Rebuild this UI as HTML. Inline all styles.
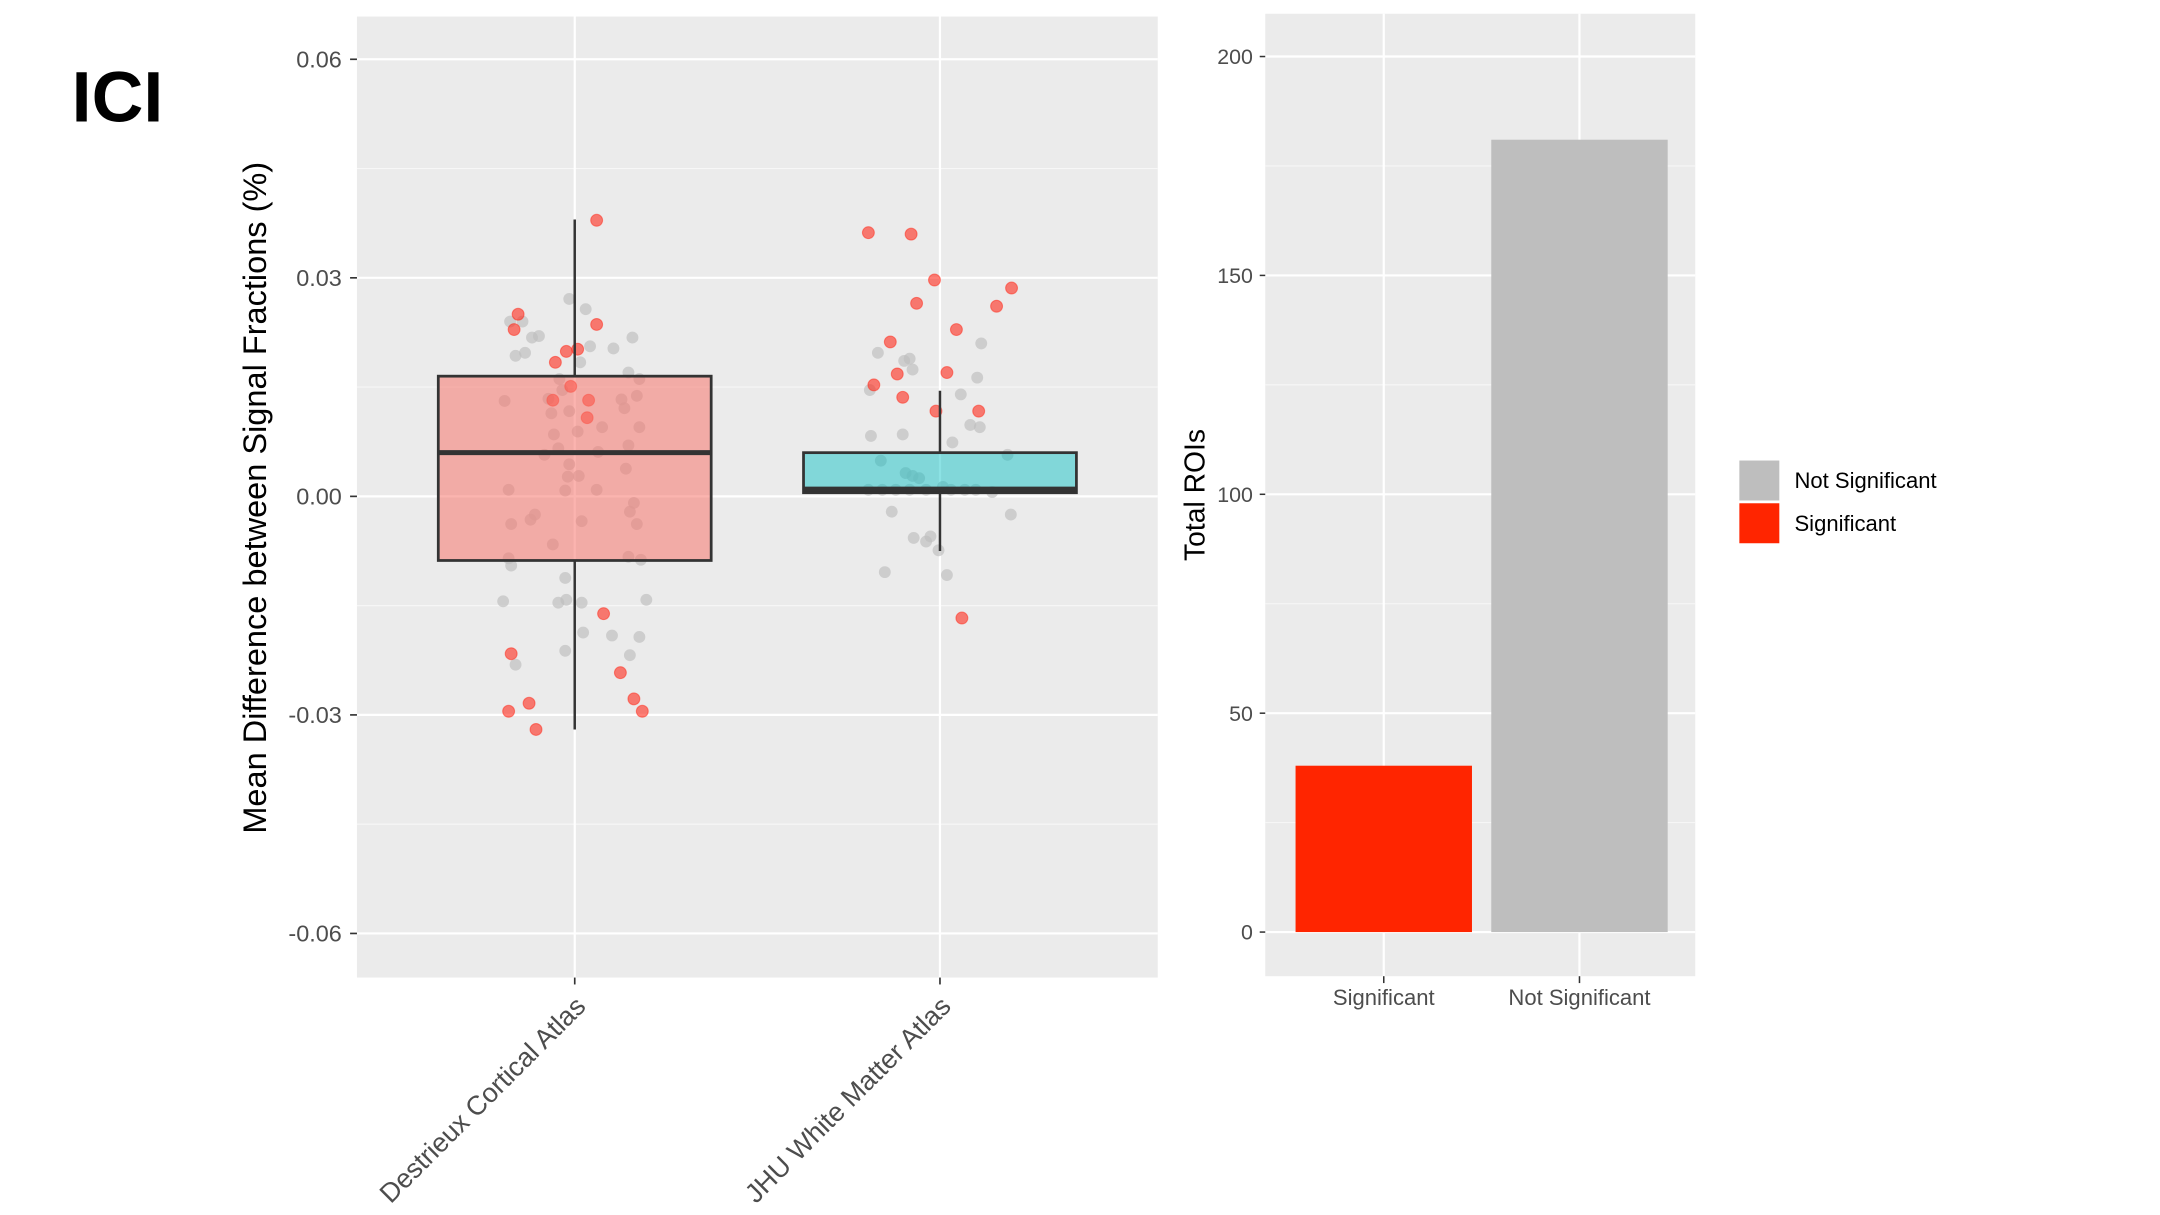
<!DOCTYPE html>
<html><head><meta charset="utf-8"><style>
html,body{margin:0;padding:0;background:#fff;}
svg{display:block;font-family:"Liberation Sans",Arial,sans-serif;}
</style></head><body>
<svg id="chart" width="2160" height="1215" viewBox="0 0 1567.2 881.2" preserveAspectRatio="none" xmlns="http://www.w3.org/2000/svg">
<text x="52" y="88" font-size="52" font-weight="bold" font-family="Liberation Sans Narrow, Liberation Sans, sans-serif">ICI</text>
<g id="left"></g>
<g id="right"></g>
</svg>
<script>
const NS="http://www.w3.org/2000/svg";
// ---- Box plot data ----
const boxCategories=["Destrieux Cortical Atlas","JHU White Matter Atlas"];
const boxQ1=[-0.0088,0.0005];
const boxMedian=[0.006,0.001];
const boxQ3=[0.0165,0.006];
const whiskLow=[-0.032,-0.0075];
const whiskHigh=[0.038,0.0145];
const yTicks=[0.06,0.03,0,-0.03,-0.06];
const yTickLabels=["0.06","0.03","0.00","-0.03","-0.06"];
// jittered points: category index, jitter (category units), value
const sigCat=[0,0,0,0,0,0,0,0,0,0,0,0,0,0,0,0,0,0,0,1,1,1,1,1,1,1,1,1,1,1,1,1,1,1];
const sigJit=[0.06,-0.155,-0.166,0.06,-0.053,-0.023,0.008,-0.011,-0.06,0.038,0.034,-0.174,-0.125,-0.181,-0.106,0.079,0.125,0.162,0.185,-0.196,-0.079,-0.015,0.196,-0.064,0.155,0.045,-0.136,-0.181,-0.117,0.019,-0.102,-0.011,0.106,0.06];
const sigVal=[0.0379,0.025,0.0229,0.0236,0.0184,0.0199,0.0202,0.0151,0.0132,0.0132,0.0108,-0.0216,-0.0284,-0.0295,-0.032,-0.0161,-0.0242,-0.0278,-0.0295,0.0362,0.036,0.0297,0.0286,0.0265,0.0261,0.0229,0.0212,0.0153,0.0168,0.017,0.0136,0.0117,0.0117,-0.0167];
const nsCat=[0,0,0,0,0,0,0,0,0,0,0,0,0,0,0,0,0,0,0,0,0,0,0,0,0,0,0,0,0,0,0,0,0,0,0,0,0,0,0,0,0,0,0,0,0,0,0,0,0,0,0,0,0,0,0,0,0,0,0,0,0,0,
1,1,1,1,1,1,1,1,1,1,1,1,1,1,1,1,1,1,1,1,1,1,1,1,1,1,1,1,1,1,1,1,1,1,1,1];
const nsJit=[-0.117,-0.143,-0.177,-0.098,-0.015,0.03,0.158,0.042,0.106,-0.162,-0.136,-0.042,0.015,0.147,0.177,-0.072,-0.034,0.128,0.17,-0.192,-0.064,-0.015,0.136,0.075,0.177,-0.057,-0.045,0.008,-0.015,0.064,0.147,-0.019,0.011,-0.083,0.140,-0.181,0.06,-0.026,-0.109,-0.121,-0.174,0.019,0.162,0.151,0.17,-0.06,-0.181,-0.174,0.147,0.181,-0.026,-0.045,-0.023,0.019,-0.196,0.196,-0.026,0.023,0.102,0.177,0.151,-0.162,
-0.098,-0.17,-0.083,-0.075,-0.192,0.113,0.102,0.057,-0.189,-0.102,0.034,0.083,0.109,-0.162,-0.094,-0.075,-0.057,-0.196,-0.158,-0.121,-0.083,-0.038,0.030,0.068,0.098,0.143,0.194,-0.132,-0.072,-0.038,-0.004,0.019,-0.151,-0.026,0.185,0.008,0.098];
const nsVal=[0.0218,0.024,0.024,0.022,0.0271,0.0257,0.0218,0.0206,0.0203,0.0193,0.0197,0.0161,0.0184,0.017,0.0161,0.0134,0.0146,0.0133,0.0138,0.0131,0.0114,0.0117,0.0121,0.0095,0.0095,0.0085,0.0066,0.0089,0.0044,0.0061,0.007,0.0027,0.0028,0.0057,0.0038,0.0009,0.0009,0.0008,-0.0025,-0.0032,-0.0038,-0.0034,-0.0009,-0.0021,-0.0038,-0.0066,-0.0085,-0.0095,-0.0083,-0.0087,-0.0112,-0.0146,-0.0142,-0.0146,-0.0144,-0.0142,-0.0212,-0.0187,-0.0191,-0.0193,-0.0218,-0.0231,
0.0186,0.0197,0.0189,0.0174,0.0146,0.021,0.0163,0.014,0.0083,0.0085,0.0074,0.0098,0.0095,0.0049,0.0032,0.0028,0.0025,0.0009,0.0009,0.0009,0.0009,0.0009,0.0009,0.0009,0.0009,0.0006,-0.0025,-0.0021,-0.0057,-0.0062,-0.0074,-0.0108,-0.0104,-0.0055,0.0057,0.0013];
// ---- Bar data ----
const barCategories=["Significant","Not Significant"];
const barValues=[38,181];
const barTicks=[0,50,100,150,200];
const barColors=["#ff2500","#bebebe"];

function el(tag,attrs,parent){const e=document.createElementNS(NS,tag);for(const k in attrs)e.setAttribute(k,attrs[k]);parent.appendChild(e);return e;}

// Left panel
const L=document.getElementById('left');
const P={x0:259,x1:840,y0:12,y1:709};
const yS=v=>360-v*(158.5/0.03);
const xS=i=>417+i*265;
let e=el('rect',{x:P.x0,y:P.y0,width:P.x1-P.x0,height:P.y1-P.y0,fill:'#ebebeb'},L);


for(let i=0;i<yTicks.length-1;i++){const m=(yTicks[i]+yTicks[i+1])/2;
 e=el('line',{x1:P.x0,x2:P.x1,y1:yS(m),y2:yS(m),stroke:'#f7f7f7','stroke-width':0.8},L);
 
 }
yTicks.forEach((t,i)=>{
 e=el('line',{x1:P.x0,x2:P.x1,y1:yS(t),y2:yS(t),stroke:'#fff','stroke-width':1.6},L);
 
 
 e=el('line',{x1:P.x0-5,x2:P.x0,y1:yS(t),y2:yS(t),stroke:'#333','stroke-width':1.2},L);
 
 
 e=el('text',{x:P.x0-11,y:yS(t)+6,'text-anchor':'end','font-size':17,fill:'#4d4d4d'},L);
 e.textContent=yTickLabels[i];
 
 
});
boxCategories.forEach((c,i)=>{
 e=el('line',{x1:xS(i),x2:xS(i),y1:P.y0,y2:P.y1,stroke:'#fff','stroke-width':1.6},L);
 
 
 e=el('line',{x1:xS(i),x2:xS(i),y1:P.y1,y2:P.y1+5,stroke:'#333','stroke-width':1.2},L);
 
 
 e=el('text',{x:xS(i)+9,y:P.y1+22,'text-anchor':'end','font-size':19.5,fill:'#4d4d4d',transform:`rotate(-45 ${xS(i)+9} ${P.y1+22})`},L);
 e.textContent=c;
 
 
});
e=el('text',{x:193,y:361,'text-anchor':'middle','font-size':23.6,fill:'#000',transform:'rotate(-90 193 361)'},L);
e.textContent='Mean Difference between Signal Fractions (%)';


// points
nsVal.forEach((v,i)=>{e=el('circle',{cx:xS(nsCat[i]+nsJit[i]),cy:yS(v),r:4.3,fill:'#bdbdbd','fill-opacity':0.65},L);
 
 });
sigVal.forEach((v,i)=>{e=el('circle',{cx:xS(sigCat[i]+sigJit[i]),cy:yS(v),r:4.3,fill:'#ff2a1a','fill-opacity':0.6,stroke:'#ff2a1a','stroke-opacity':0.5,'stroke-width':0.8},L);
 
 });
// boxes
const boxFill=['rgba(248,118,109,0.55)','rgba(0,191,196,0.45)'];
boxCategories.forEach((c,i)=>{
 const cx=xS(i),hw=99;
 e=el('line',{x1:cx,x2:cx,y1:yS(boxQ3[i]),y2:yS(whiskHigh[i]),stroke:'#333','stroke-width':1.8},L);
 
 
 e=el('line',{x1:cx,x2:cx,y1:yS(boxQ1[i]),y2:yS(whiskLow[i]),stroke:'#333','stroke-width':1.8},L);
 
 
 e=el('rect',{x:cx-hw,y:yS(boxQ3[i]),width:2*hw,height:yS(boxQ1[i])-yS(boxQ3[i]),fill:boxFill[i],stroke:'#333','stroke-width':2},L);
 
 
 e=el('line',{x1:cx-hw,x2:cx+hw,y1:yS(boxMedian[i]),y2:yS(boxMedian[i]),stroke:'#333','stroke-width':3.6},L);
 
 
});

// Right panel
const R=document.getElementById('right');
const Q={x0:918,x1:1230,y0:10,y1:708};
const bY=v=>676-v*(635/200);
const bX=i=>1004+i*142;
e=el('rect',{x:Q.x0,y:Q.y0,width:Q.x1-Q.x0,height:Q.y1-Q.y0,fill:'#ebebeb'},R);


for(let i=0;i<barTicks.length-1;i++){const m=(barTicks[i]+barTicks[i+1])/2;
 e=el('line',{x1:Q.x0,x2:Q.x1,y1:bY(m),y2:bY(m),stroke:'#f7f7f7','stroke-width':0.8},R);
 
 }
barTicks.forEach(t=>{
 e=el('line',{x1:Q.x0,x2:Q.x1,y1:bY(t),y2:bY(t),stroke:'#fff','stroke-width':1.6},R);
 
 
 e=el('line',{x1:Q.x0-4,x2:Q.x0,y1:bY(t),y2:bY(t),stroke:'#333','stroke-width':1.1},R);
 
 
 e=el('text',{x:Q.x0-9,y:bY(t)+5.5,'text-anchor':'end','font-size':15.5,fill:'#4d4d4d'},R);
 e.textContent=String(t);
 
 
});
barCategories.forEach((c,i)=>{
 e=el('line',{x1:bX(i),x2:bX(i),y1:Q.y0,y2:Q.y1,stroke:'#fff','stroke-width':1.6},R);
 
 
 e=el('rect',{x:bX(i)-64,y:bY(barValues[i]),width:128,height:bY(0)-bY(barValues[i]),fill:barColors[i]},R);
 
 
 e=el('line',{x1:bX(i),x2:bX(i),y1:Q.y1,y2:Q.y1+5,stroke:'#333','stroke-width':1.1},R);
 
 
 e=el('text',{x:bX(i),y:Q.y1+21,'text-anchor':'middle','font-size':16,fill:'#4d4d4d'},R);
 e.textContent=c;
 
 
});
e=el('text',{x:874,y:359,'text-anchor':'middle','font-size':20.5,fill:'#000',transform:'rotate(-90 874 359)'},R);
e.textContent='Total ROIs';


// legend
const legendLabels=["Not Significant","Significant"];
const legendColors=["#bebebe","#ff2500"];
legendLabels.forEach((l,i)=>{
 e=el('rect',{x:1262,y:334+i*31,width:29,height:29,fill:legendColors[i]},R);
 
 
 e=el('text',{x:1302,y:354+i*31,'font-size':16,fill:'#000'},R);
 e.textContent=l;
 
 
});
</script>
</body></html>
